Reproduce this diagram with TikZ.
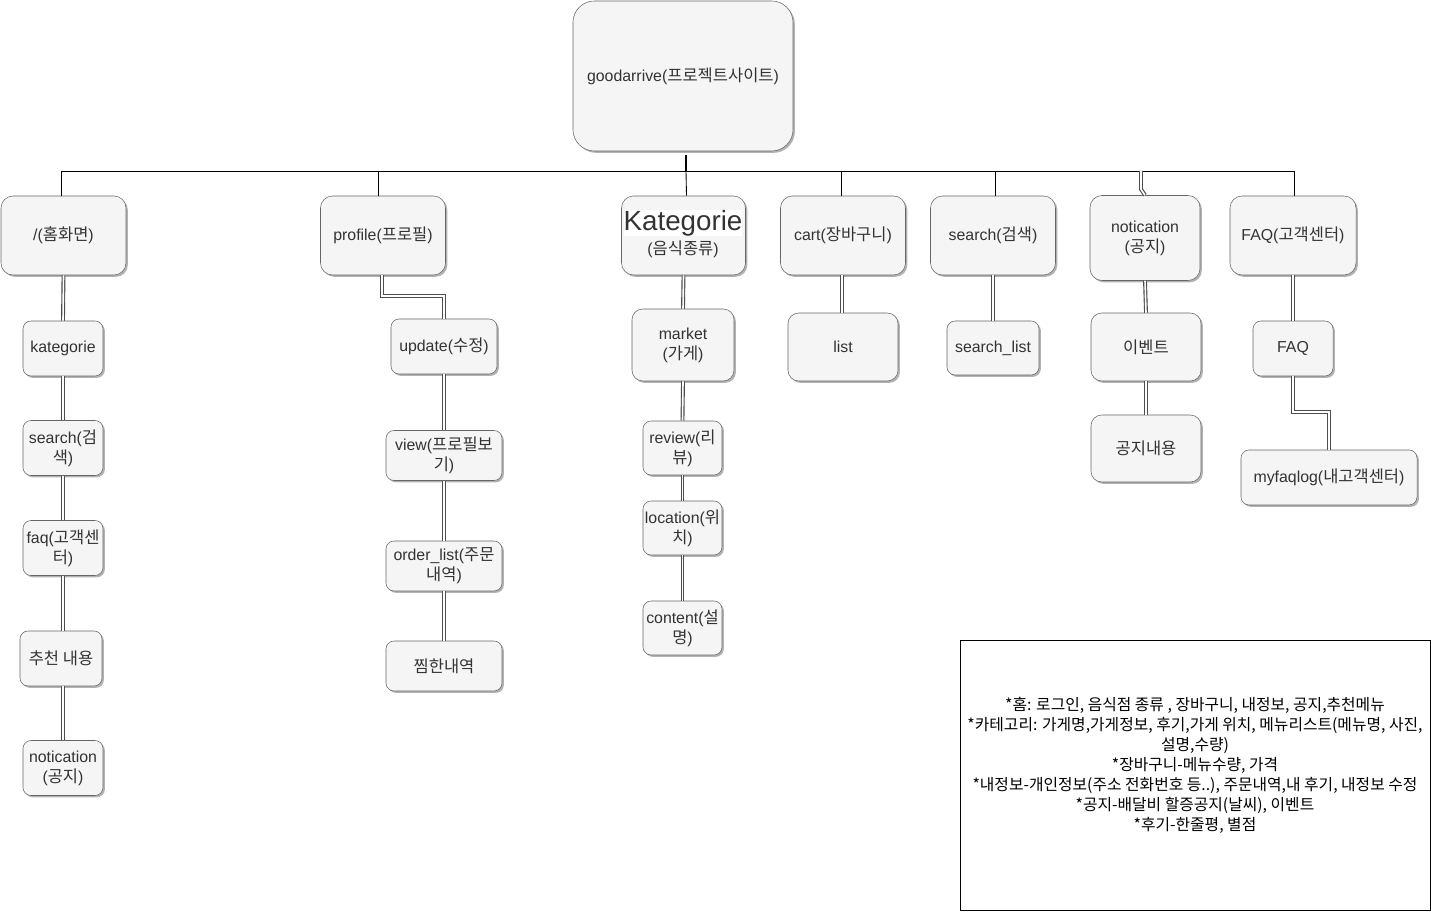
\documentclass[tikz,border=0pt]{standalone}
\usepackage{fontspec}
\setmainfont{Liberation Sans}
\newfontfamily\krfont[Scale=1.04]{Noto Sans CJK KR}
\newcommand\hgl[1]{{\krfont #1}}
\newcommand\boxfont{\fontsize{11.9pt}{15pt}\selectfont}
\usetikzlibrary{shadows,calc}
\definecolor{boxfill}{HTML}{F5F5F5}
\definecolor{boxline}{HTML}{666666}
\definecolor{boxtext}{HTML}{333333}
\definecolor{linkline}{HTML}{4D4D4D}
\begin{document}
\begin{tikzpicture}[x=0.75pt,y=-0.75pt,
  box/.style n args={3}{draw=boxline, fill=boxfill, text=boxtext,
    rounded corners=#3, minimum width=#1*0.75pt, minimum height=#2*0.75pt,
    inner sep=0pt, align=center, font=\boxfont,
    drop shadow={shadow xshift=1.4pt, shadow yshift=-1.4pt, opacity=0.3, fill=black}},
  tree/.style={draw=black, line width=0.65pt},
  link/.style={draw=linkline, line width=0.85pt, double=white, double distance=1.2pt},
  notebox/.style={draw=black, fill=white, line width=0.7pt, minimum width=470*0.75pt,
    minimum height=270*0.75pt, inner sep=0pt},
  notetext/.style={align=center, inner sep=0pt, font=\krfont\fontsize{11.4pt}{15pt}\selectfont}]
\useasboundingbox (0,0) rectangle (1431,912);

% root
\node[box={220}{150}{16pt}] (root) at (683,76) {goodarrive(\hgl{프로젝트사이트})};

% first level
\node[box={125}{79}{9pt}] (home) at (63.5,235.5) {/(\hgl{홈화면})};
\node[box={125}{79}{9pt}] (profile) at (383,235.5) {profile(\hgl{프로필})};
\node[box={124}{79}{9pt}] (kat) at (683.5,235.5) {};
\node[fill=white, inner sep=0pt, text=boxtext, font=\fontsize{20.8pt}{24pt}\selectfont] (katname) at (683,223) {Kategorie};
\node[text=boxtext, inner sep=0pt, font=\boxfont] (katsub) at (683,249) {(\hgl{음식종류})};
\node[box={125}{79}{9pt}] (cart) at (843,235.5) {cart(\hgl{장바구니})};
\node[box={125}{79}{9pt}] (search) at (993,235.5) {search(\hgl{검색})};
\node[box={110}{85}{9pt}] (notic) at (1145,238) {notication\\(\hgl{공지})};
\node[box={126}{79}{9pt}] (faqc) at (1293,235.5) {FAQ(\hgl{고객센터})};

% home column
\node[box={80}{55}{6pt}] (hk) at (63,348.5) {kategorie};
\node[box={80}{55}{6pt}] (hs) at (63,448) {search(\hgl{검}\\\hgl{색})};
\node[box={80}{55}{6pt}] (hf) at (63,548) {faq(\hgl{고객센}\\\hgl{터})};
\node[box={82}{55}{6pt}] (hr) at (61,658.5) {\hgl{추천 내용}};
\node[box={80}{55}{6pt}] (hn) at (63,768) {notication\\(\hgl{공지})};

% profile column
\node[box={106}{55}{6pt}] (pu) at (444,346.5) {update(\hgl{수정})};
\node[box={116}{50}{6pt}] (pv) at (444,455.5) {view(\hgl{프로필보}\\\hgl{기})};
\node[box={116}{50}{6pt}] (po) at (444,566) {order\_list(\hgl{주문}\\\hgl{내역})};
\node[box={116}{50}{6pt}] (pz) at (444,666) {\hgl{찜한내역}};

% category column
\node[box={102}{72}{8pt}] (km) at (683,345) {market\\(\hgl{가게})};
\node[box={79}{54}{6pt}] (kr) at (682.5,448) {review(\hgl{리}\\\hgl{뷰})};
\node[box={79}{54}{6pt}] (kl) at (682.5,528) {location(\hgl{위}\\\hgl{치})};
\node[box={79}{54}{6pt}] (kc) at (682.5,628) {content(\hgl{설}\\\hgl{명})};

% cart, search, notice, faq columns
\node[box={110}{68}{8pt}] (cl) at (843,347) {list};
\node[box={92}{54}{6pt}] (sl) at (993,348) {search\_list};
\node[box={110}{68}{8pt}] (ne) at (1146,347) {\hgl{이벤트}};
\node[box={110}{67}{8pt}] (nc) at (1146,448.5) {\hgl{공지내용}};
\node[box={80}{55}{6pt}] (fq) at (1293,348.5) {FAQ};
\node[box={176}{55}{6pt}] (fm) at (1329,477.5) {myfaqlog(\hgl{내고객센터})};

% tree bus
\coordinate (busL) at (61,171);
\coordinate (busR) at (1294,171);
\draw[tree] (busL) -- (busR);
\draw[tree, line width=1.3pt] ($(root.south)+(3,4)$) -- ($(root.south |- busL)+(3,0)$);
\draw[tree] ($(root.south |- busL)+(3,0)$) -- ($(kat.north)+(3,0)$);
\draw[tree] (busL) -- (home.north -| busL);
\draw[tree] ($(profile.north |- busL)+(-5,0)$) -- ($(profile.north)+(-5,0)$);
\draw[tree] ($(cart.north |- busL)+(-2,0)$) -- ($(cart.north)+(-2,0)$);
\draw[tree] ($(search.north |- busL)+(2,0)$) -- ($(search.north)+(2,0)$);
\draw[tree] (busR) -- (faqc.north -| busR);
\draw[link] ($(notic.north |- busL)+(-4,0)$) -- ($(notic.north)+(-4,-6)$) -- (notic.north);

% double links
\draw[link] (home.south) -- (hk.north);
\draw[link] (hk.south) -- (hs.north);
\draw[link] (hs.south) -- (hf.north);
\draw[link] (hf.south) -- ($(hr.north)+(2,0)$);
\draw[link] ($(hr.south)+(2,0)$) -- (hn.north);

\draw[link] ($(profile.south)+(-1,0)$) -- ++(0,21) -| (pu.north);
\draw[link] (pu.south) -- (pv.north);
\draw[link] (pv.south) -- (po.north);
\draw[link] (po.south) -- (pz.north);

\draw[link] (kat.south) -- (km.north);
\draw[link] (km.south) -- (kr.north);
\draw[link] (kr.south) -- (kl.north);
\draw[link] (kl.south) -- (kc.north);

\draw[link] ($(cart.south)+(-1,0)$) -- ($(cl.north)+(-1,0)$);
\draw[link] (search.south) -- (sl.north);
\draw[link] (notic.south) -- (ne.north);
\draw[link] (ne.south) -- (nc.north);
\draw[link] (faqc.south) -- (fq.north);
\draw[link] (fq.south) -- ++(0,36) -| (fm.north);

% notes
\node[notebox] (note) at (1195,775) {};
\node[notetext] (notebody) at (1195,765) {*홈: 로그인, 음식점 종류 , 장바구니, 내정보, 공지,추천메뉴\\
*카테고리: 가게명,가게정보, 후기,가게 위치, 메뉴리스트(메뉴명, 사진,\\
설명,수량)\\
*장바구니-메뉴수량, 가격\\
*내정보-개인정보(주소 전화번호 등..), 주문내역,내 후기, 내정보 수정\\
*공지-배달비 할증공지(날씨), 이벤트\\
*후기-한줄평, 별점};
\end{tikzpicture}
\end{document}
